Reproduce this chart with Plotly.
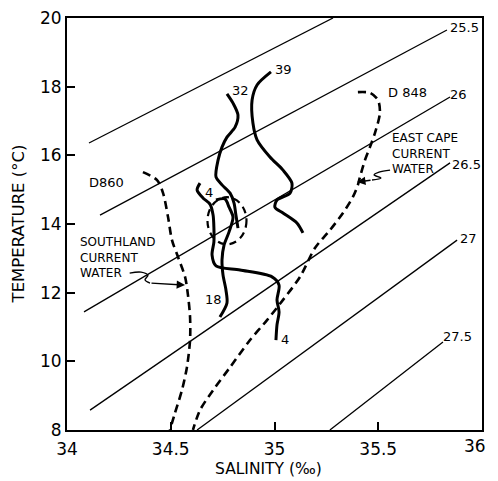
import plotly.graph_objects as go

# ---------------- data ----------------
# sigma-t isopycnals (start/end salinity, temperature) and labels
iso_labels = ["", "25.5", "26", "26.5", "27", "27.5"]
iso_s0 = [34.106, 34.159, 34.082, 34.111, 34.627, 35.267]
iso_t0 = [16.36, 14.26, 11.44, 8.58, 8.00, 8.00]
iso_s1 = [35.282, 35.831, 35.846, 35.846, 35.880, 35.812]
iso_t1 = [20.00, 19.65, 17.70, 15.78, 13.53, 10.56]
iso_lab_s = [None, 35.918, 35.889, 35.925, 35.933, 35.880]
iso_lab_t = [None, 19.71, 17.76, 15.73, 13.59, 10.71]

# station 39 (solid)
st39_s = [34.983, 34.916, 34.892, 34.896, 34.916, 34.978, 35.041, 35.084, 35.075,
          35.012, 35.002, 35.041, 35.108, 35.137]
st39_t = [18.43, 18.05, 17.61, 16.94, 16.45, 15.95, 15.57, 15.19, 14.90,
          14.70, 14.49, 14.32, 14.03, 13.74]
# station 32 (solid)
st32_s = [34.771, 34.800, 34.824, 34.810, 34.771, 34.747, 34.728, 34.718, 34.747,
          34.786, 34.805, 34.814, 34.824]
st32_t = [17.79, 17.52, 17.17, 16.82, 16.53, 16.24, 15.86, 15.37, 15.14,
          14.90, 14.61, 14.26, 13.88]
# station 18 (solid)
st18_s = [34.718, 34.761, 34.781, 34.800, 34.781, 34.757, 34.747, 34.752, 34.766,
          34.771, 34.737]
st18_t = [14.70, 14.73, 14.49, 14.20, 13.77, 13.39, 12.95, 12.51, 12.08,
          11.70, 11.29]
# station 4 (solid)
st4_s = [34.641, 34.627, 34.655, 34.689, 34.704, 34.708, 34.708, 34.699, 34.718,
         34.834, 34.988, 35.022, 35.012, 35.022, 35.012, 35.007]
st4_t = [15.19, 14.99, 14.76, 14.58, 14.26, 13.88, 13.48, 13.10, 12.78,
         12.66, 12.46, 12.22, 11.79, 11.44, 11.06, 10.62]
# D860 (dashed) - Southland Current water
d860_s = [34.366, 34.434, 34.463, 34.487, 34.506, 34.535, 34.569, 34.583, 34.593,
          34.593, 34.578, 34.554, 34.520, 34.496]
d860_t = [15.51, 15.28, 14.90, 14.20, 13.53, 13.04, 12.46, 11.93, 11.29,
          10.62, 9.83, 9.16, 8.49, 8.00]
# D848 (dashed) - East Cape Current water
d848_s = [35.402, 35.460, 35.499, 35.508, 35.484, 35.460, 35.436, 35.412, 35.402,
          35.378, 35.330, 35.267, 35.195, 35.123, 35.041, 34.964, 34.882, 34.786,
          34.704, 34.641, 34.607]
d848_t = [17.84, 17.82, 17.61, 17.23, 16.65, 16.24, 15.86, 15.37, 15.14,
          14.79, 14.32, 13.82, 13.30, 12.46, 11.79, 11.20, 10.62, 9.83,
          9.16, 8.58, 8.00]

# mixing ellipse (bounding box)
ell_s = [34.677, 34.865]
ell_t = [13.41, 14.78]

# station labels
st_labels = ["39", "32", "4", "18", "4", "D860", "D 848"]
st_lab_s = [35.041, 34.834, 34.684, 34.704, 35.051, 34.188, 35.639]
st_lab_t = [18.49, 17.90, 14.93, 11.79, 10.65, 15.22, 17.84]

# water-mass labels
south_text = "SOUTHLAND<br>CURRENT<br>WATER"
south_s, south_t = 34.053, 13.01
east_text = "EAST CAPE<br>CURRENT<br>WATER"
east_s, east_t = 35.557, 16.05

# squiggly pointer lines
south_sq_s = [34.302, 34.357, 34.390, 34.376, 34.400]
south_sq_t = [12.57, 12.60, 12.51, 12.37, 12.28]
south_tip = (34.569, 12.22)
east_sq_s = [35.557, 35.504, 35.480, 35.513, 35.470]
east_sq_t = [15.57, 15.51, 15.43, 15.34, 15.28]
east_tip = (35.398, 15.22)

x_ticks = [34, 34.5, 35, 35.5, 36]
x_ticktext = ["34", "34.5", "35", "35.5", ""]
last_xlabel = "36"          # drawn slightly inset, as in the original
last_xlabel_s = 35.968
y_ticks = [8, 10, 12, 14, 16, 18, 20]

FONT = "DejaVu Sans"

fig = go.Figure()

# isopycnals
for i in range(len(iso_labels)):
    fig.add_trace(go.Scatter(x=[iso_s0[i], iso_s1[i]], y=[iso_t0[i], iso_t1[i]],
                             mode="lines", line=dict(color="black", width=1.3),
                             hoverinfo="skip", showlegend=False))

solid = [(st39_s, st39_t), (st32_s, st32_t), (st18_s, st18_t), (st4_s, st4_t)]
for s, t in solid:
    fig.add_trace(go.Scatter(x=s, y=t, mode="lines",
                             line=dict(color="black", width=3, shape="spline", smoothing=0.8),
                             showlegend=False))
for s, t in [(d860_s, d860_t), (d848_s, d848_t)]:
    fig.add_trace(go.Scatter(x=s, y=t, mode="lines",
                             line=dict(color="black", width=2.6, dash="8px,5px",
                                       shape="spline", smoothing=0.8),
                             showlegend=False))

# squiggles
for s, t in [(south_sq_s, south_sq_t), (east_sq_s, east_sq_t)]:
    fig.add_trace(go.Scatter(x=s, y=t, mode="lines",
                             line=dict(color="black", width=1.4, shape="spline"),
                             showlegend=False, hoverinfo="skip"))

# ellipse
fig.add_shape(type="circle", xref="x", yref="y",
              x0=ell_s[0], x1=ell_s[1], y0=ell_t[0], y1=ell_t[1],
              line=dict(color="black", width=2.2, dash="7px,5px"))

ann = []
for i, lab in enumerate(iso_labels):
    if lab:
        ann.append(dict(x=iso_lab_s[i], y=iso_lab_t[i], text=lab, showarrow=False,
                        font=dict(family=FONT, size=13, color="black")))
for lab, s, t in zip(st_labels, st_lab_s, st_lab_t):
    ann.append(dict(x=s, y=t, text=lab, showarrow=False,
                    font=dict(family=FONT, size=13, color="black")))
for txt, s, t in [(south_text, south_s, south_t), (east_text, east_s, east_t)]:
    ann.append(dict(x=s, y=t, text=txt, showarrow=False, xanchor="left",
                    yanchor="middle", align="left",
                    font=dict(family=FONT, size=12, color="black")))
# arrowheads
ann.append(dict(x=south_tip[0], y=south_tip[1], ax=south_sq_s[-1], ay=south_sq_t[-1],
                xref="x", yref="y", axref="x", ayref="y", text="", showarrow=True,
                arrowhead=2, arrowsize=1.2, arrowwidth=1.4, arrowcolor="black"))
ann.append(dict(x=east_tip[0], y=east_tip[1], ax=east_sq_s[-1], ay=east_sq_t[-1],
                xref="x", yref="y", axref="x", ayref="y", text="", showarrow=True,
                arrowhead=2, arrowsize=1.2, arrowwidth=1.4, arrowcolor="black"))
# inset last x tick label
ann.append(dict(x=last_xlabel_s, y=-0.04, xref="x", yref="paper", text=last_xlabel,
                showarrow=False, yanchor="middle",
                font=dict(family=FONT, size=17, color="black")))
# axis titles
ann.append(dict(x=0.485, y=-0.0947, xref="paper", yref="paper", text="SALINITY (‰)",
                showarrow=False, yanchor="middle",
                font=dict(family=FONT, size=15.5, color="black")))
ann.append(dict(x=-0.117, y=0.5, xref="paper", yref="paper", text="TEMPERATURE (°C)",
                showarrow=False, textangle=-90, xanchor="center",
                font=dict(family=FONT, size=16.5, color="black")))

# page body has an 8px margin -> figure sized so that the plot lands
# at 67..482 x 18..430 in the 498x481 window
fig.update_layout(
    width=490, height=473,
    margin=dict(l=59, r=16, t=10, b=51, autoexpand=False),
    paper_bgcolor="white", plot_bgcolor="white",
    showlegend=False,
    annotations=ann,
    xaxis=dict(range=[34, 36], tickvals=x_ticks, ticktext=x_ticktext,
               showgrid=False, zeroline=False, showline=True, linecolor="black",
               linewidth=2, mirror=True, ticks="inside", ticklen=8, tickwidth=1.5,
               ticklabeloverflow="allow", automargin=False, ticklabelstandoff=3,
               tickcolor="black", tickfont=dict(family=FONT, size=17, color="black")),
    yaxis=dict(range=[8, 20], tickvals=y_ticks,
               showgrid=False, zeroline=False, showline=True, linecolor="black",
               linewidth=2, mirror=True, ticks="inside", ticklen=8, tickwidth=1.5,
               ticklabeloverflow="allow", automargin=False,
               tickcolor="black", tickfont=dict(family=FONT, size=17, color="black")),
)

fig.write_html("out.html")
